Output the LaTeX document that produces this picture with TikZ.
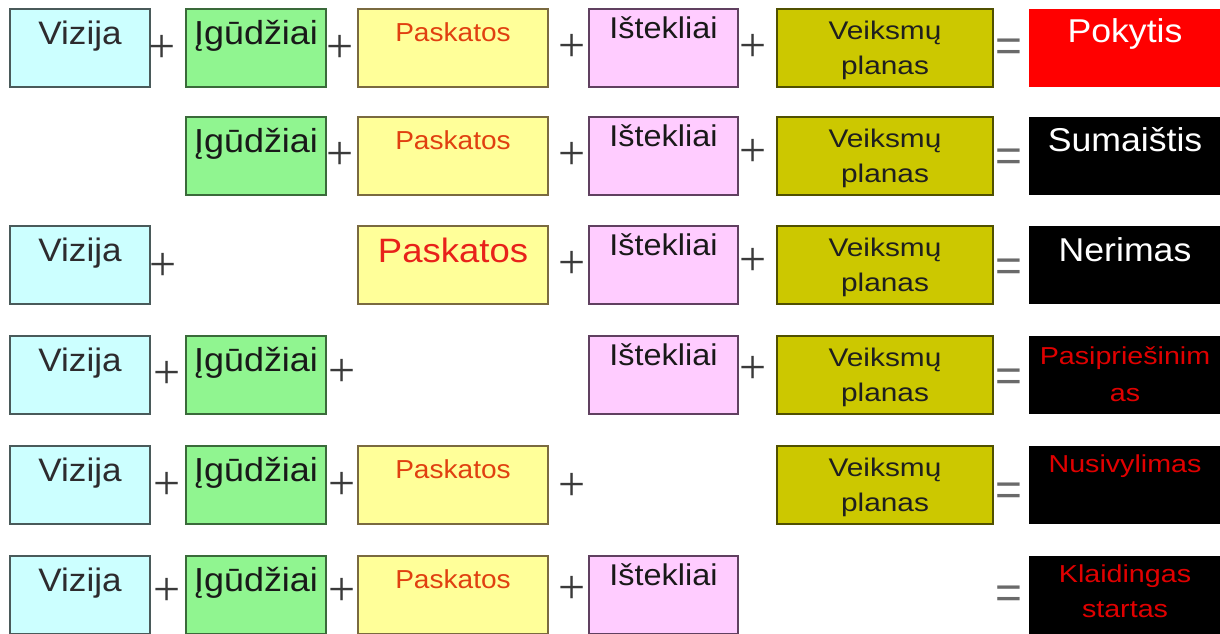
\documentclass[tikz,border=0pt]{standalone}
\usepackage{fontspec}
\setmainfont{Liberation Sans}[FakeStretch=1.08]
\newfontfamily\widerfont{Liberation Sans}[FakeStretch=1.17]
\newfontfamily\opfont{Liberation Serif}
\newfontfamily\eqfont{Liberation Sans}
\definecolor{vizf}{HTML}{CCFFFF}\definecolor{vizd}{HTML}{4A5A5A}
\definecolor{igf}{HTML}{90F590}\definecolor{igd}{HTML}{3A6A3A}
\definecolor{paf}{HTML}{FFFF99}\definecolor{pad}{HTML}{7A6A40}
\definecolor{isf}{HTML}{FFCCFF}\definecolor{isd}{HTML}{604060}
\definecolor{vef}{HTML}{CCC800}\definecolor{ved}{HTML}{505000}
\definecolor{pored}{HTML}{FF0000}
\definecolor{patxt}{HTML}{E04010}
\definecolor{patxtL}{HTML}{E8221A}
\definecolor{blkred}{HTML}{E00000}
\definecolor{optxt}{HTML}{3A3A3A}
\definecolor{eqtxt}{HTML}{6A6A6A}
\newcommand\fs[1]{\fontsize{#1}{#1}\selectfont}
\begin{document}
\begin{tikzpicture}[x=1pt,y=-1pt,
  cell/.style={rectangle,inner sep=0pt,line width=1.5pt,minimum height=78pt},
  viz/.style={cell,draw=vizd,fill=vizf,minimum width=140pt},
  igu/.style={cell,draw=igd,fill=igf,minimum width=140pt},
  pas/.style={cell,draw=pad,fill=paf,minimum width=190pt},
  ist/.style={cell,draw=isd,fill=isf,minimum width=149pt},
  vei/.style={cell,draw=ved,fill=vef,minimum width=216pt},
  res/.style={cell,fill=black,minimum width=192pt},
  resred/.style={cell,fill=pored,minimum width=192pt},
  txt/.style={inner sep=0pt,anchor=base},
  viztxt/.style={txt,font=\fs{32.5},text=black!85!cyan!40!black},
  igtxt/.style={txt,font=\fs{33.3},text=black!90},
  patxtS/.style={txt,font=\fs{26},text=patxt},
  patxtB/.style={txt,font=\fs{33.8},text=patxtL},
  istxt/.style={txt,font=\fs{30},text=black!90},
  vetxt/.style={txt,font=\widerfont\fs{25.5},text=black!88},
  whtxt/.style={txt,font=\fs{33},text=white},
  rdtxt/.style={txt,font=\widerfont\fs{24.5},text=blkred},
  op/.style={inner sep=0pt,font=\opfont\fs{48},text=optxt},
  eqs/.style={inner sep=0pt,font=\eqfont\fs{46},text=eqtxt}]
\useasboundingbox (0,0) rectangle (1220,633);
% ---------- Row 1 (top 9)
\node[viz] (v1) at (80,48) {};
\node[viztxt] (v1t) at ([yshift=-36pt]v1.north) {Vizija};
\node[igu] (g1) at (256,48) {};
\node[igtxt] (g1t) at ([yshift=-36pt]g1.north) {Įgūdžiai};
\node[pas] (p1) at (453,48) {};
\node[patxtS] (p1t) at ([yshift=-33pt]p1.north) {Paskatos};
\node[ist] (i1) at (663.5,48) {};
\node[istxt] (i1t) at ([yshift=-30pt]i1.north) {Ištekliai};
\node[vei] (a1) at (885,48) {};
\node[vetxt] (a1t) at ([yshift=-31pt]a1.north) {Veiksmų};
\node[vetxt] (a1u) at ([yshift=-66pt]a1.north) {planas};
\node[resred] (r1) at (1125,48) {};
\node[whtxt] (r1t) at ([yshift=-34pt]r1.north) {Pokytis};
\node[op] (o11) at (162,49) {+};
\node[op] (o12) at (340,49) {+};
\node[op] (o13) at (572,48) {+};
\node[op] (o14) at (753,48) {+};
\node[eqs] (e1) at (1009,50) {=};
% ---------- Row 2 (top 117)
\node[igu] (g2) at (256,156) {};
\node[igtxt] (g2t) at ([yshift=-36pt]g2.north) {Įgūdžiai};
\node[pas] (p2) at (453,156) {};
\node[patxtS] (p2t) at ([yshift=-33pt]p2.north) {Paskatos};
\node[ist] (i2) at (663.5,156) {};
\node[istxt] (i2t) at ([yshift=-30pt]i2.north) {Ištekliai};
\node[vei] (a2) at (885,156) {};
\node[vetxt] (a2t) at ([yshift=-31pt]a2.north) {Veiksmų};
\node[vetxt] (a2u) at ([yshift=-66pt]a2.north) {planas};
\node[res] (r2) at (1125,156) {};
\node[whtxt] (r2t) at ([yshift=-35pt]r2.north) {Sumaištis};
\node[op] (o22) at (340,156) {+};
\node[op] (o23) at (572,156) {+};
\node[op] (o24) at (753,153) {+};
\node[eqs] (e2) at (1009,160) {=};
% ---------- Row 3 (top 226)
\node[viz] (v3) at (80,265) {};
\node[viztxt] (v3t) at ([yshift=-36pt]v3.north) {Vizija};
\node[pas] (p3) at (453,265) {};
\node[patxtB] (p3t) at ([yshift=-37pt]p3.north) {Paskatos};
\node[ist] (i3) at (663.5,265) {};
\node[istxt] (i3t) at ([yshift=-30pt]i3.north) {Ištekliai};
\node[vei] (a3) at (885,265) {};
\node[vetxt] (a3t) at ([yshift=-31pt]a3.north) {Veiksmų};
\node[vetxt] (a3u) at ([yshift=-66pt]a3.north) {planas};
\node[res] (r3) at (1125,265) {};
\node[whtxt] (r3t) at ([yshift=-36pt]r3.north) {Nerimas};
\node[op] (o31) at (163,267) {+};
\node[op] (o33) at (572,265) {+};
\node[op] (o34) at (753,262) {+};
\node[eqs] (e3) at (1009,270) {=};
% ---------- Row 4 (top 336)
\node[viz] (v4) at (80,375) {};
\node[viztxt] (v4t) at ([yshift=-36pt]v4.north) {Vizija};
\node[igu] (g4) at (256,375) {};
\node[igtxt] (g4t) at ([yshift=-36pt]g4.north) {Įgūdžiai};
\node[ist] (i4) at (663.5,375) {};
\node[istxt] (i4t) at ([yshift=-30pt]i4.north) {Ištekliai};
\node[vei] (a4) at (885,375) {};
\node[vetxt] (a4t) at ([yshift=-31pt]a4.north) {Veiksmų};
\node[vetxt] (a4u) at ([yshift=-66pt]a4.north) {planas};
\node[res] (r4) at (1125,375) {};
\node[rdtxt] (r4t) at ([yshift=-29pt]r4.north) {Pasipriešinim};
\node[rdtxt] (r4u) at ([yshift=-66pt]r4.north) {as};
\node[op] (o41) at (167,375) {+};
\node[op] (o42) at (342,373) {+};
\node[op] (o44) at (753,370) {+};
\node[eqs] (e4) at (1009,380) {=};
% ---------- Row 5 (top 446)
\node[viz] (v5) at (80,485) {};
\node[viztxt] (v5t) at ([yshift=-36pt]v5.north) {Vizija};
\node[igu] (g5) at (256,485) {};
\node[igtxt] (g5t) at ([yshift=-36pt]g5.north) {Įgūdžiai};
\node[pas] (p5) at (453,485) {};
\node[patxtS] (p5t) at ([yshift=-33pt]p5.north) {Paskatos};
\node[vei] (a5) at (885,485) {};
\node[vetxt] (a5t) at ([yshift=-31pt]a5.north) {Veiksmų};
\node[vetxt] (a5u) at ([yshift=-66pt]a5.north) {planas};
\node[res] (r5) at (1125,485) {};
\node[rdtxt] (r5t) at ([yshift=-27pt]r5.north) {Nusivylimas};
\node[op] (o51) at (167,486) {+};
\node[op] (o52) at (342,486) {+};
\node[op] (o53) at (572,487) {+};
\node[eqs] (e5) at (1009,494) {=};
% ---------- Row 6 (top 556)
\node[viz] (v6) at (80,595) {};
\node[viztxt] (v6t) at ([yshift=-36pt]v6.north) {Vizija};
\node[igu] (g6) at (256,595) {};
\node[igtxt] (g6t) at ([yshift=-36pt]g6.north) {Įgūdžiai};
\node[pas] (p6) at (453,595) {};
\node[patxtS] (p6t) at ([yshift=-33pt]p6.north) {Paskatos};
\node[ist] (i6) at (663.5,595) {};
\node[istxt] (i6t) at ([yshift=-30pt]i6.north) {Ištekliai};
\node[res] (r6) at (1125,595) {};
\node[rdtxt] (r6t) at ([yshift=-27pt]r6.north) {Klaidingas};
\node[rdtxt] (r6u) at ([yshift=-62pt]r6.north) {startas};
\node[op] (o61) at (167,592) {+};
\node[op] (o62) at (342,592) {+};
\node[op] (o63) at (572,590) {+};
\node[eqs] (e6) at (1009,597) {=};
\end{tikzpicture}
\end{document}
